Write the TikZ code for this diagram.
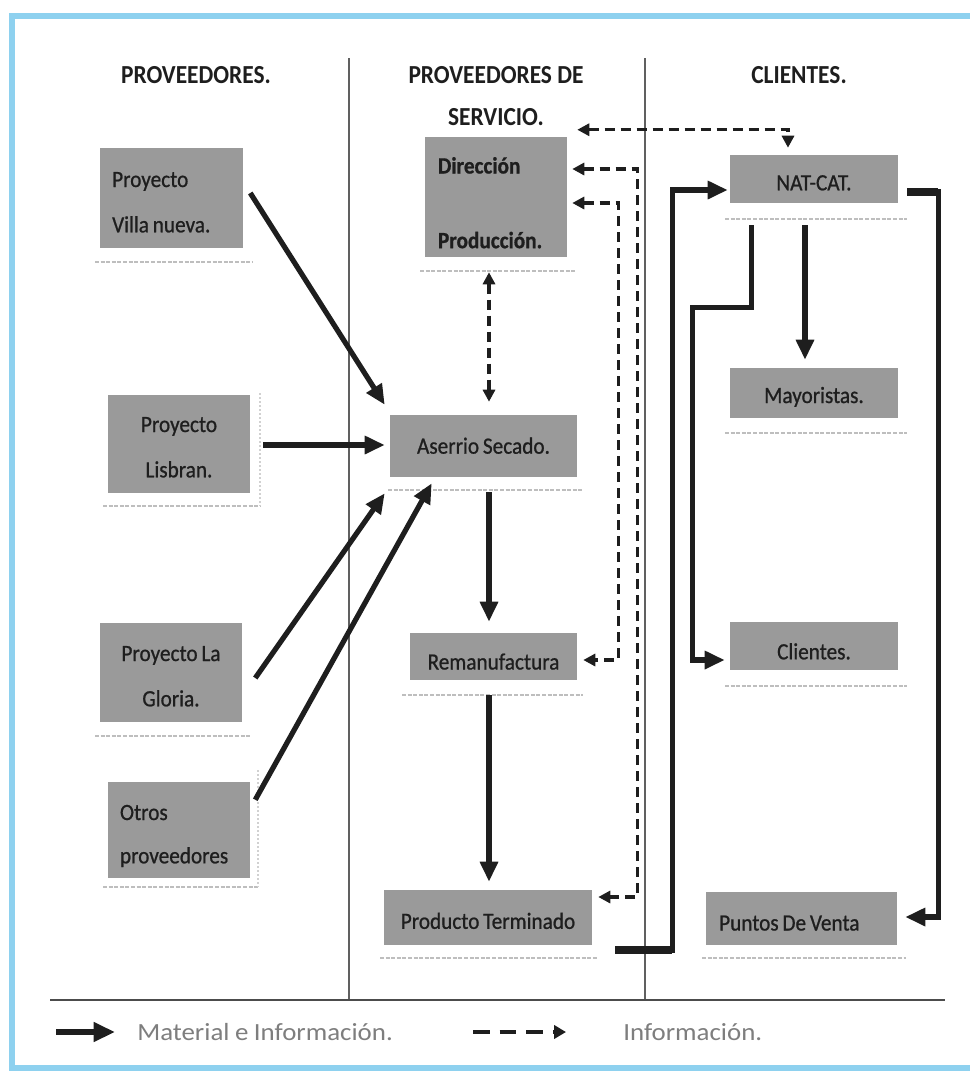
\documentclass[tikz,border=0pt]{standalone}
\usepackage{fontspec}
\setmainfont{Carlito}
\newfontfamily\boxfont[FakeStretch=0.91,FakeBold=0.8,WordSpace=0.8]{Carlito}
\newfontfamily\headfont[FakeStretch=0.9]{Carlito}
\newfontfamily\legendfont[FakeStretch=1.09,WordSpace=0.9]{Carlito}
\usetikzlibrary{arrows.meta}
\definecolor{boxgray}{HTML}{9A9A9A}
\definecolor{frameblue}{HTML}{8ED1EF}
\definecolor{ink}{HTML}{1E1E1E}
\definecolor{shade}{HTML}{BEBEBE}
\definecolor{legendgray}{HTML}{7E7E7E}

\begin{document}
\begin{tikzpicture}[x=0.75pt,y=-0.75pt,
  box/.style={fill=boxgray, draw=none, inner sep=0pt, text=ink,
    font=\boxfont\fontsize{17.5}{20}\selectfont, text height=17pt, text depth=0pt},
  twoline/.style={font=\boxfont\fontsize{17.5}{34}\selectfont, text height=12pt},
  head/.style={text=ink, font=\headfont\bfseries\fontsize{19.5}{32}\selectfont, align=flush center},
  legendtext/.style={text=legendgray, font=\legendfont\fontsize{18.5}{22}\selectfont, anchor=west, inner sep=0pt},
  mat/.style={draw=ink, line width=3.9pt, -{Triangle[length=15pt,width=13pt]}},
  matstub/.style={draw=ink, line width=6pt},
  info/.style={draw=ink, line width=2.6pt, dash pattern=on 7.5pt off 4.5pt,
    {Triangle[length=9pt,width=9pt]}-{Triangle[length=9pt,width=9pt]}},
  infoone/.style={draw=ink, line width=3.6pt, dash pattern=on 12.5pt off 7.5pt,
    -{Triangle[length=9pt,width=10pt]}},
  underline/.style={draw=shade, line width=1.6pt, dash pattern=on 3pt off 1.2pt},
  edge/.style={draw=shade!70, line width=0.8pt, dash pattern=on 1.5pt off 1.5pt},
  divider/.style={draw=gray!75!black, line width=1pt},
]
\useasboundingbox (0,0) rectangle (970,1072);
\fill[white] (0,0) rectangle (970,1072);

% outer frame
\draw[draw=frameblue, line width=4.8pt] (12,16) rectangle (995,1068);

% column dividers and base rule
\draw[divider] (349,58) -- (349,1000);
\draw[divider] (645,58) -- (645,1000);
\draw[draw=gray!60!black, line width=1.8pt] (50,1000) -- (945,1000);

% column headings
\node[head] (hprov) at (196,75) {PROVEEDORES.};
\node[head] (hserv) at (496,96) {PROVEEDORES DE\\SERVICIO.};
\node[head] (hcli) at (799,75) {CLIENTES.};

% suppliers
\node[box, twoline, text depth=28.5pt, minimum width=107.25pt, minimum height=75pt,
      text width=89pt, align=flush left] (villa) at (171.5,198) {Proyecto\\Villa nueva.};
\node[box, twoline, text depth=30pt, minimum width=106.5pt, minimum height=73.5pt,
      text width=89pt, align=flush center] (lisbran) at (179,444) {Proyecto\\Lisbran.};
\node[box, twoline, text depth=29.25pt, minimum width=106.5pt, minimum height=74.25pt,
      text width=89pt, align=flush center] (gloria) at (171,672.5) {Proyecto La\\Gloria.};
\node[box, twoline, text depth=27pt, font=\boxfont\fontsize{17.5}{32.5}\selectfont,
      minimum width=106.5pt, minimum height=72pt,
      text width=88.5pt, align=flush left] (otros) at (179,830) {Otros\\proveedores};

% service providers
\node[box, minimum width=106.5pt, minimum height=90pt, text width=87pt, align=flush left,
      text height=12pt, text depth=47.25pt,
      font=\boxfont\bfseries\fontsize{17.5}{56}\selectfont] (dir) at (496,197) {Dirección\\Producción.};
\node[box, text height=11.5pt, minimum width=140.25pt, minimum height=46.5pt] (aserrio) at (483.5,446) {Aserrio Secado.};
\node[box, text height=19.5pt, minimum width=125.25pt, minimum height=35.25pt] (reman) at (493.5,656.5) {Remanufactura};
\node[box, minimum width=156pt, minimum height=41.25pt] (producto) at (488,917.5) {Producto Terminado};

% customers
\node[box, minimum width=126pt, minimum height=36pt] (natcat) at (814,179) {NAT-CAT.};
\node[box, text height=15pt, minimum width=126pt, minimum height=37.5pt] (mayor) at (814,393) {Mayoristas.};
\node[box, text height=20pt, minimum width=126pt, minimum height=36pt] (clientes) at (814,646) {Clientes.};
\node[box, text height=18pt, minimum width=143.25pt, minimum height=39.75pt, text width=123.5pt,
      align=flush left] (puntos) at (801.5,918.5) {Puntos De Venta};

% faint shadow rules under the boxes
\draw[underline] (95,262) -- (252,262);
\draw[underline] (103,506) -- (260,506);
\draw[edge] (260,393) -- (260,506);
\draw[underline] (95,736) -- (250,736);
\draw[underline] (103,887) -- (258,887);
\draw[edge] (258,770) -- (258,887);
\draw[underline] (420,271) -- (575,271);
\draw[underline] (388,490) -- (582,490);
\draw[underline] (402,695) -- (583,695);
\draw[underline] (380,958) -- (598,958);
\draw[underline] (725,219) -- (907,219);
\draw[underline] (725,433) -- (907,433);
\draw[underline] (725,686) -- (907,686);
\draw[underline] (702,958) -- (906,958);

% material and information flow
\draw[mat] ([shift={(7,-5)}]villa.east) -- ([shift={(-5,-10)}]aserrio.north west);
\draw[mat] ([shift={(13,1)}]lisbran.east) -- ([shift={(-5,-1)}]aserrio.west);
\draw[mat] ([shift={(13,5.5)}]gloria.east) -- ([shift={(-5,16)}]aserrio.south west);
\draw[mat] ([shift={(5,18)}]otros.north east) -- ([shift={(42,6)}]aserrio.south west);

\draw[mat] ([shift={(5.5,15)}]aserrio.south) -- ([shift={(-4.5,-11)}]reman.north);
\draw[mat] ([shift={(-4.5,15)}]reman.south) -- ([shift={(1,-8)}]producto.north);

\draw[matstub] ([shift={(23,5)}]producto.south east) -- ++(57,0);
\draw[mat] ([shift={(23,5)}]producto.south east) -- ++(57,0) |- ([shift={(-2,11)}]natcat.west);

\draw[mat] ([shift={(-9,22)}]natcat.south) -- ([shift={(-9,-8)}]mayor.north);
\draw[mat] ([shift={(22,22)}]natcat.south west) -- ++(0,82) -- ++(-59,0) |- ([shift={(-5,14)}]clientes.west);
\draw[matstub] ([shift={(9,13)}]natcat.east) -- ++(31,0);
\draw[mat] ([shift={(9,13)}]natcat.east) -- ++(31,0) |- ([shift={(8,-1.5)}]puntos.east);

% information only
\draw[info] ([shift={(-7,15)}]dir.south) -- ([shift={(5.5,-13)}]aserrio.north);
\draw[info] ([shift={(10,-7)}]dir.north east) -| ([shift={(-26,-7)}]natcat.north);
\draw[info] ([shift={(5,-28)}]dir.east) -- ++(65,0) |- ([shift={(6,-20.5)}]producto.east);
\draw[info] ([shift={(5,6)}]dir.east) -- ++(46,0) |- ([shift={(6,3.5)}]reman.east);

% legend
\coordinate (lgA) at (56,1032);
\coordinate (lgB) at (115,1032);
\draw[mat, line width=5pt, -{Triangle[length=16pt,width=14pt]}] (lgA) -- (lgB);
\node[legendtext] (lgmat) at (137,1032) {Material e Información.};
\coordinate (lgC) at (473,1032);
\coordinate (lgD) at (566,1032);
\draw[infoone] (lgC) -- (lgD);
\node[legendtext] (lginfo) at (623,1032) {Información.};
\end{tikzpicture}
\end{document}
